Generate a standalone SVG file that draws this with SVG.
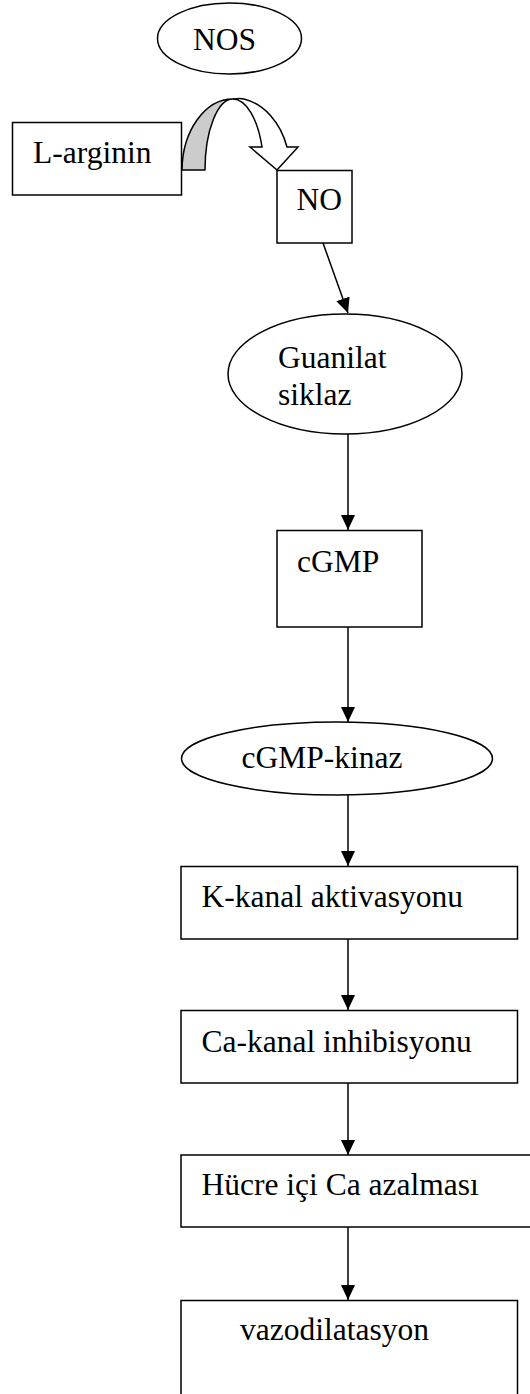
<svg xmlns="http://www.w3.org/2000/svg" width="530" height="1394" viewBox="0 0 530 1394">
<style>
.s{fill:#fff;stroke:#000;stroke-width:1.5}
.t{font-family:"Liberation Serif","Times New Roman",serif;font-size:31.5px;fill:#000}
.c{fill:none;stroke:#000;stroke-width:1.5}
</style>
<defs>
<marker id="ah" markerUnits="userSpaceOnUse" markerWidth="16" markerHeight="14" refX="15" refY="7" orient="auto">
<path d="M0,0 L15,7 L0,14 Z" fill="#000"/>
</marker>
</defs>
<rect width="530" height="1394" fill="#fff"/>
<g id="connectors">
<g id="curved-arrow">
<path d="M182,170 A51,72 0 0 1 233,99 A28,71 0 0 0 205,170 Z" fill="#cccccc" stroke="#000" stroke-width="1.5" stroke-linejoin="round"/>
<path d="M233,99 Q240,98 244,99 A57,72 0 0 1 287,147 L298,147 L277,170 L250,147 L262,147 A31,72 0 0 0 233,99 Z" fill="#fff" stroke="#000" stroke-width="1.5" stroke-linejoin="miter"/>
</g>
<line class="c" x1="323" y1="243" x2="348" y2="313" marker-end="url(#ah)"/>
<line class="c" x1="348" y1="434" x2="348" y2="530" marker-end="url(#ah)"/>
<line class="c" x1="348" y1="627" x2="348" y2="722" marker-end="url(#ah)"/>
<line class="c" x1="348" y1="795" x2="348" y2="866" marker-end="url(#ah)"/>
<line class="c" x1="348" y1="939" x2="348" y2="1010" marker-end="url(#ah)"/>
<line class="c" x1="348" y1="1083" x2="348" y2="1155" marker-end="url(#ah)"/>
<line class="c" x1="348" y1="1227" x2="348" y2="1300" marker-end="url(#ah)"/>
</g>
<g id="nos">
<ellipse class="s" cx="229.5" cy="38.5" rx="72" ry="35.5"/>
<text class="t" x="193" y="50">NOS</text>
</g>
<g id="l-arginin">
<rect class="s" x="12.5" y="122.5" width="169" height="72.5"/>
<text class="t" x="33" y="163">L-arginin</text>
</g>
<g id="no">
<rect class="s" x="277" y="170.5" width="75" height="72.5"/>
<text class="t" x="296.5" y="210">NO</text>
</g>
<g id="guanilat-siklaz">
<ellipse class="s" cx="345" cy="374" rx="117" ry="60"/>
<text class="t" x="278" y="368">Guanilat</text>
<text class="t" x="278" y="405">siklaz</text>
</g>
<g id="cgmp">
<rect class="s" x="277" y="530.5" width="145" height="96.5"/>
<text class="t" x="297" y="572">cGMP</text>
</g>
<g id="cgmp-kinaz">
<ellipse class="s" cx="337" cy="758.5" rx="155.5" ry="36.5"/>
<text class="t" x="241.5" y="768">cGMP-kinaz</text>
</g>
<g id="k-kanal">
<rect class="s" x="181" y="866.5" width="336.5" height="72.5"/>
<text class="t" x="201.5" y="906.5">K-kanal aktivasyonu</text>
</g>
<g id="ca-kanal">
<rect class="s" x="181" y="1010.5" width="336.5" height="72.5"/>
<text class="t" x="201.5" y="1051.5">Ca-kanal inhibisyonu</text>
</g>
<g id="hucre">
<rect class="s" x="181" y="1155" width="352" height="72"/>
<text class="t" x="201.5" y="1195">Hücre içi Ca azalması</text>
</g>
<g id="vazodilatasyon">
<rect class="s" x="181" y="1300.5" width="336.5" height="110"/>
<text class="t" x="240" y="1340">vazodilatasyon</text>
</g>
</svg>
